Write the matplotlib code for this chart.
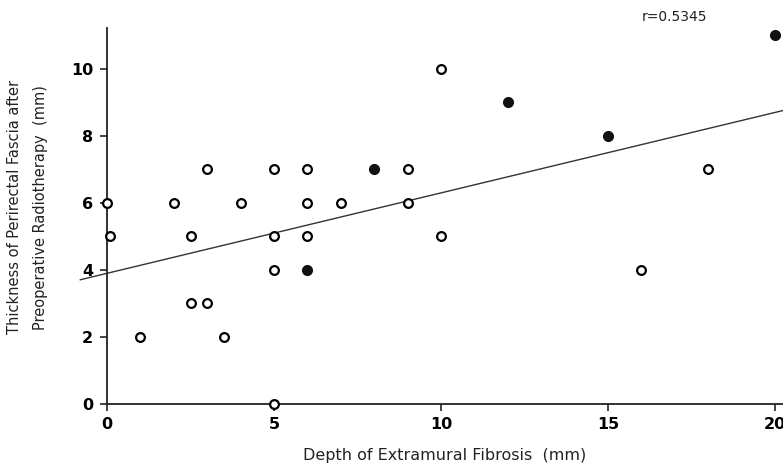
import numpy as np
import matplotlib
matplotlib.use("Agg")
import matplotlib.pyplot as plt

# open circles
open_x = [0, 0.1, 1, 2, 2.5, 2.5, 3, 3, 3.5, 4, 5, 5, 5, 5, 6, 6, 6, 7, 9, 9, 10, 10, 16, 18]
open_y = [6, 5, 2, 6, 5, 3, 3, 7, 2, 6, 7, 5, 4, 0, 7, 6, 5, 6, 7, 6, 10, 5, 4, 7]

# filled circles
filled_x = [6, 8, 12, 15, 20]
filled_y = [4, 7, 9, 8, 11]

# regression line
fit_intercept = 3.9
fit_slope = 0.24
fit_range = [-0.8, 20.3]
r_text = "r=0.5345"

x_ticks = [0, 5, 10, 15, 20]
y_ticks = [0, 2, 4, 6, 8, 10]

tick_font = {"family": ["Liberation Sans Narrow", "DejaVu Sans"], "weight": "bold", "size": 11.5}

fig = plt.figure(figsize=(7.83, 4.66), dpi=100)
ax = fig.add_axes([0.1367, 0.1330, 0.8633, 0.8069])

fx = np.array(fit_range)
ax.plot(fx, fit_intercept + fit_slope * fx, color="#333333", lw=1.0, clip_on=False, zorder=1)

ax.plot(open_x, open_y, "o", ms=6.3, mfc="white", mec="black", mew=1.6, clip_on=False, zorder=3)
ax.plot(filled_x, filled_y, "o", ms=7, mfc="#111111", mec="#111111", clip_on=False, zorder=3)

ax.set_xlim(0, 20.24)
ax.set_ylim(0, 11.22)
ax.spines["top"].set_visible(False)
ax.spines["right"].set_visible(False)
for s in ("left", "bottom"):
    ax.spines[s].set_linewidth(1.3)
    ax.spines[s].set_color("#222222")

ax.set_xticks(x_ticks)
ax.set_yticks(y_ticks)
ax.set_xticklabels([str(t) for t in x_ticks], fontdict=tick_font)
ax.set_yticklabels([str(t) for t in y_ticks], fontdict=tick_font)
ax.tick_params(direction="out", length=5, width=1.2, color="#222222", pad=5)
ax.tick_params(axis="x", pad=4)

ax.set_xlabel("Depth of Extramural Fibrosis  (mm)", fontsize=11.5, color="#222222", labelpad=12)
fig.text(0.018, 0.555, "Thickness of Perirectal Fascia after", rotation=90,
         ha="center", va="center", fontsize=10.5, color="#222222")
fig.text(0.052, 0.555, "Preoperative Radiotherapy  (mm)", rotation=90,
         ha="center", va="center", fontsize=10.5, color="#222222")

fig.text(0.862, 0.963, r_text, ha="center", va="center", fontsize=10, color="#222222")

fig.savefig("out.png", dpi=100)
